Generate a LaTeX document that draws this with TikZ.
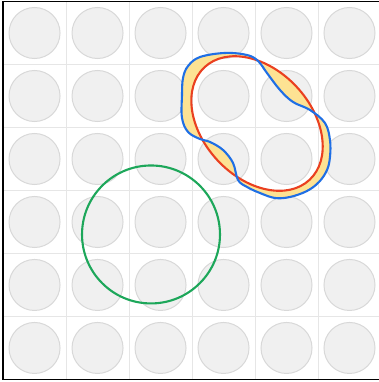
\documentclass[tikz,border=0pt]{standalone}
\usepackage{xcolor}
\usepackage{tikz}
\usetikzlibrary{calc}

\definecolor{cellgray}{HTML}{F0F0F0}
\definecolor{cellline}{HTML}{D8D8D8}
\definecolor{gridline}{HTML}{E6E6E6}
\definecolor{ringgreen}{HTML}{1DA75A}
\definecolor{ellred}{HTML}{EA4020}
\definecolor{blobblue}{HTML}{1F6FE5}
\definecolor{gapyellow}{HTML}{FDE293}

\begin{document}
\begin{tikzpicture}[
    x=1cm, y=1cm,
    cell/.style={fill=cellgray, draw=cellline, line width=0.45pt},
    grid/.style={draw=gridline, line width=0.45pt},
    curve/.style={line width=0.95pt}
]
  \useasboundingbox (-0.048,-0.040) rectangle (5.968,6.024);

  % Grid
  \foreach \k in {1,...,5} {
    \draw[grid] (\k,0) -- (\k,6);
    \draw[grid] (0,\k) -- (6,\k);
  }

  % Cells
  \foreach \i in {0,...,5} {
    \foreach \j in {0,...,5} {
      \draw[cell] (\i+0.5,\j+0.5) circle (0.405);
    }
  }

  % Frame
  \draw[line width=0.7pt] (0,0) rectangle (6.2,6);

  % Green ring
  \draw[curve, ringgreen] (2.349,2.302) circle (1.095);

  % Gap between blob and ellipse
  \fill[gapyellow, even odd rule]
    plot[smooth cycle, tension=0.6] coordinates {
      (2.937,4.976) (3.127,5.119) (3.524,5.183) (3.873,5.151) (4.048,5.056)
      (4.190,4.865) (4.397,4.595) (4.603,4.405) (4.873,4.278) (5.111,4.071)
      (5.190,3.802) (5.190,3.532) (5.143,3.325) (5.016,3.135) (4.825,2.992)
      (4.556,2.897) (4.317,2.881) (4.079,2.960) (3.873,3.056) (3.730,3.167)
      (3.651,3.437) (3.492,3.643) (3.286,3.770) (3.127,3.817) (2.937,3.929)
      (2.841,4.151) (2.841,4.516) (2.857,4.786)}
    (4.032,4.063) circle [x radius=1.222, y radius=0.857, rotate=-47];

  % Ellipse
  \draw[curve, ellred] (4.032,4.063) circle [x radius=1.222, y radius=0.857, rotate=-47];

  % Blob
  \draw[curve, blobblue]
    plot[smooth cycle, tension=0.6] coordinates {
      (2.937,4.976) (3.127,5.119) (3.524,5.183) (3.873,5.151) (4.048,5.056)
      (4.190,4.865) (4.397,4.595) (4.603,4.405) (4.873,4.278) (5.111,4.071)
      (5.190,3.802) (5.190,3.532) (5.143,3.325) (5.016,3.135) (4.825,2.992)
      (4.556,2.897) (4.317,2.881) (4.079,2.960) (3.873,3.056) (3.730,3.167)
      (3.651,3.437) (3.492,3.643) (3.286,3.770) (3.127,3.817) (2.937,3.929)
      (2.841,4.151) (2.841,4.516) (2.857,4.786)};
\end{tikzpicture}
\end{document}
